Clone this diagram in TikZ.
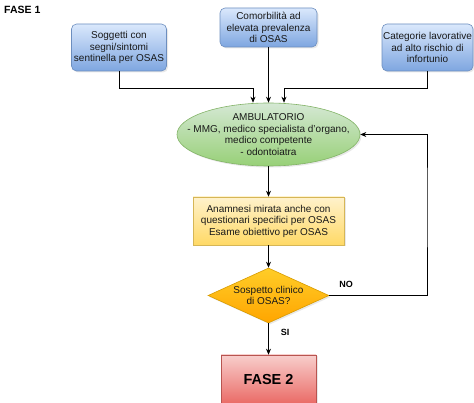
\documentclass[tikz,border=0pt]{standalone}
\usepackage{fontspec}
\setmainfont{Liberation Sans}
\usetikzlibrary{shapes.geometric,arrows.meta,shadows}
\definecolor{bluetop}{HTML}{DAE8FC}
\definecolor{bluebot}{HTML}{7EA6E0}
\definecolor{blueedge}{HTML}{6C8EBF}
\definecolor{greentop}{HTML}{D5E8D4}
\definecolor{greenbot}{HTML}{97D077}
\definecolor{greenedge}{HTML}{82B366}
\definecolor{yeltop}{HTML}{FFF2CC}
\definecolor{yelbot}{HTML}{FFD966}
\definecolor{yeledge}{HTML}{D6B656}
\definecolor{orgtop}{HTML}{FFCD28}
\definecolor{orgbot}{HTML}{FFA500}
\definecolor{orgedge}{HTML}{D79B00}
\definecolor{redtop}{HTML}{F8CECC}
\definecolor{redbot}{HTML}{EA6B66}
\definecolor{rededge}{HTML}{B85450}
\begin{document}
\begin{tikzpicture}[x=1pt,y=-1pt,
  txt/.style={font=\fontsize{10}{11.5}\selectfont, align=center, inner sep=0pt, text=black!90},
  shad/.style={drop shadow={opacity=0.18, shadow xshift=1.5pt, shadow yshift=-1.5pt}},
  bluebox/.style={txt, rectangle, rounded corners=5pt, draw=blueedge, line width=0.6pt,
    top color=bluetop, bottom color=bluebot, minimum width=95pt, minimum height=47pt, shad},
  conn/.style={draw, line width=0.7pt, -{Stealth[length=6pt,width=5pt]}},
  lbl/.style={font=\bfseries\fontsize{9}{10}\selectfont, inner sep=0pt}
]
\useasboundingbox (0,0) rectangle (474,403);
\clip (0,0) rectangle (474,403);

\node[font=\bfseries\fontsize{10.5}{12}\selectfont, anchor=west, inner sep=0pt] (fase1) at (4,10) {FASE 1};

\node[bluebox] (b1) at (119,47.5) {Soggetti con\\segni/sintomi\\sentinella per OSAS};
\node[bluebox, minimum width=97pt, minimum height=39pt] (b2) at (268.5,27.5) {Comorbilità ad\\elevata prevalenza\\di OSAS};
\node[bluebox, minimum width=91pt] (b3) at (427.5,47.5) {Categorie lavorative\\ad alto rischio di\\infortunio};

\node[ellipse, draw=greenedge, line width=0.6pt, top color=greentop, bottom color=greenbot,
  minimum width=183pt, minimum height=63pt, inner sep=0pt, shad] (amb) at (268.5,134.5) {};
\node[txt] (ambtxt) at (amb.center) {AMBULATORIO\\- MMG, medico specialista d'organo,\\medico competente\\- odontoiatra};

\node[txt, rectangle, draw=yeledge, line width=0.6pt, top color=yeltop, bottom color=yelbot,
  minimum width=151pt, minimum height=48pt, shad] (yel) at (268.5,221) {Anamnesi mirata anche con\\questionari specifici per OSAS\\Esame obiettivo per OSAS};

\node[diamond, aspect=2.2, draw=orgedge, line width=0.6pt, top color=orgtop, bottom color=orgbot,
  minimum width=121pt, minimum height=55pt, inner sep=0pt, shad] (dia) at (268.5,295.5) {};
\node[txt] (diatxt) at (dia.center) {Sospetto clinico\\di OSAS?};

\node[rectangle, draw=rededge, line width=0.6pt, top color=redtop, bottom color=redbot,
  minimum width=95pt, minimum height=48.5pt, inner sep=0pt, shad,
  font=\bfseries\fontsize{14.5}{16}\selectfont] (fase2) at (268.5,379.25) {FASE 2};

\coordinate (j1) at (253,88);
\coordinate (j3) at (284,88);
\coordinate (jn) at (427,200);

\draw[conn] (b1.south) |- (j1) -- (j1 |- amb.north);
\draw[conn] (b2.south) -- (amb.north);
\draw[conn] (b3.south) |- (j3) -- (j3 |- amb.north);
\draw[conn] (amb.south) -- (yel.north);
\draw[conn] (yel.south) -- (dia.north);
\draw[conn] (dia.east) -| (jn) |- (amb.east);
\draw[conn] (dia.south) -- (fase2.north);

\node[lbl] (no) at (346,284) {NO};
\node[lbl] (si) at (285,332) {SI};
\end{tikzpicture}
\end{document}
